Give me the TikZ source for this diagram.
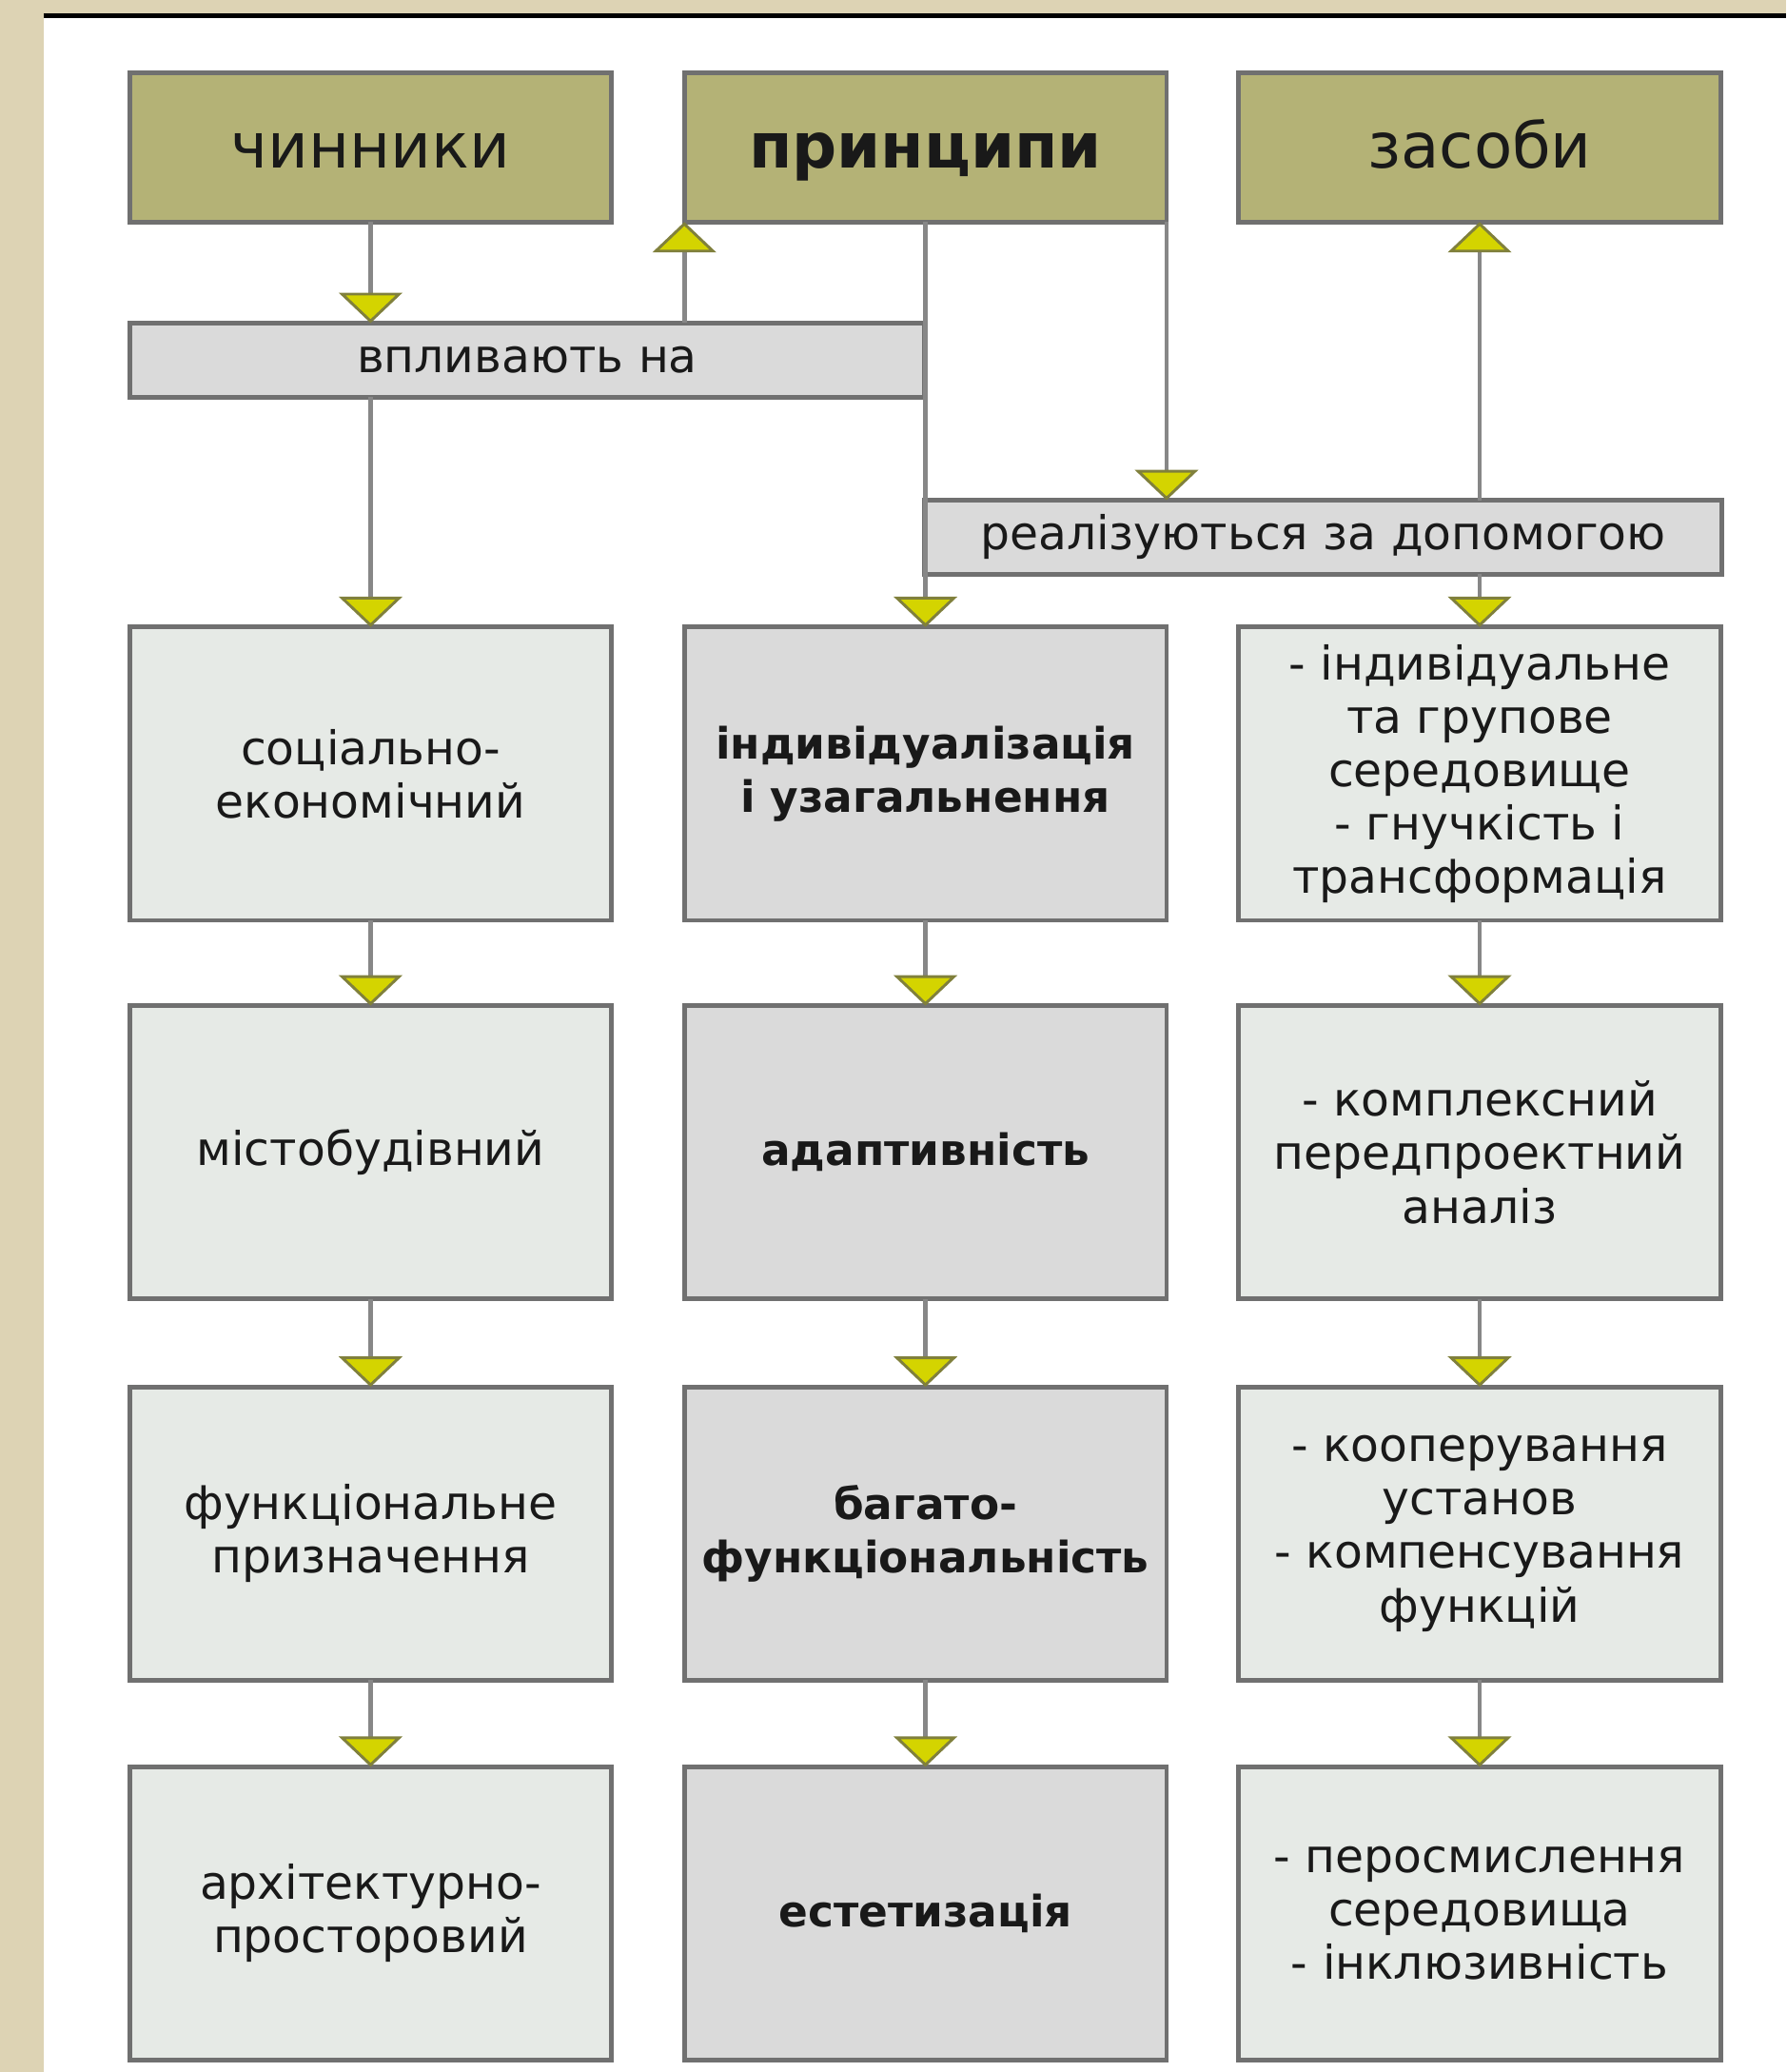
\documentclass[tikz,border=0pt]{standalone}
\usepackage{fontspec}
\setmainfont{DejaVu Sans}
\usepackage{tikz}
\usetikzlibrary{positioning, arrows.meta}

\definecolor{paper}{RGB}{221,211,180}
\definecolor{olivebox}{RGB}{180,178,118}
\definecolor{greybox}{RGB}{218,218,218}
\definecolor{palebox}{RGB}{230,234,230}
\definecolor{edgegrey}{RGB}{112,112,112}
\definecolor{wiregrey}{RGB}{135,135,135}
\definecolor{tipyellow}{RGB}{212,212,0}
\definecolor{tipedge}{RGB}{128,128,60}

\tikzset{
  cell/.style={draw=edgegrey, line width=1pt, rectangle, inner sep=0pt, outer sep=0pt,
    align=center, text=black!90, font=\fontsize{10}{11.5}\selectfont},
  head/.style={cell, fill=olivebox, minimum width=3.65cm, minimum height=1.13cm,
    text height=1.8ex, text depth=0.2ex, font=\fontsize{13.5}{16}\selectfont},
  band/.style={cell, fill=greybox, minimum height=0.56cm},
  side/.style={cell, fill=palebox, minimum width=3.65cm, minimum height=2.22cm},
  core/.style={cell, fill=greybox, minimum width=3.65cm, minimum height=2.22cm,
    font=\fontsize{9.3}{11.5}\selectfont\bfseries},
  wire/.style={draw=wiregrey, line width=1pt,
    -{Triangle[width=4.8mm, length=2.3mm, fill=tipyellow, color=tipedge, line width=0.6pt]}}
}

\begin{document}
\begin{tikzpicture}
  \useasboundingbox (0, 0) rectangle (13.52, -15.68);
  \fill[paper] (0, 0) rectangle (13.52, -15.68);
  \fill[white] (0.33, -0.12) rectangle (13.52, -15.68);
  \draw[black, line width=1pt] (0.33, -0.12) -- (13.52, -0.12);

  \node[head] (chyn) at (2.805, -1.115) {чинники};
  \node[head, font=\fontsize{13.5}{16}\selectfont\bfseries] (prin) at (7.005, -1.115) {принципи};
  \node[head] (zas) at (11.2, -1.115) {засоби};

  \node[band, minimum width=6.02cm] (vplyv) at (3.99, -2.725) {впливають на};
  \node[band, minimum width=6.03cm] (real) at (10.015, -4.065) {реалізуються за допомогою};

  \node[side] (r1c1) at (2.805, -5.855) {соціально-\\економічний};
  \node[side] (r2c1) at (2.805, -8.72) {містобудівний};
  \node[side] (r3c1) at (2.805, -11.605) {функціональне\\призначення};
  \node[side] (r4c1) at (2.805, -14.48) {архітектурно-\\просторовий};

  \node[core] (r1c2) at (7.005, -5.855) {індивідуалізація\\і узагальнення};
  \node[core] (r2c2) at (7.005, -8.72) {адаптивність};
  \node[core] (r3c2) at (7.005, -11.605) {багато-\\функціональність};
  \node[core] (r4c2) at (7.005, -14.48) {естетизація};

  \node[side] (r1c3) at (11.2, -5.855) {- індивідуальне\\та групове\\середовище\\- гнучкість і\\трансформація};
  \node[side] (r2c3) at (11.2, -8.72) {- комплексний\\передпроектний\\аналіз};
  \node[side] (r3c3) at (11.2, -11.605) {- кооперування\\установ\\- компенсування\\функцій};
  \node[side] (r4c3) at (11.2, -14.48) {- пеpосмислення\\середовища\\- інклюзивність};

  \draw[wire] (chyn.south) -- (chyn.south |- vplyv.north);
  \draw[wire] (vplyv.north -| prin.south west) -- (prin.south west);
  \draw[wire] (prin.south) -- (r1c2.north);
  \draw[wire] (prin.south east) -- (prin.south east |- real.north);
  \draw[wire] (real.north -| zas.south) -- (zas.south);
  \draw[wire] (vplyv.south -| r1c1.north) -- (r1c1.north);
  \draw[wire] (real.south -| r1c3.north) -- (r1c3.north);

  \foreach \c in {1, 2, 3} {
    \draw[wire] (r1c\c.south) -- (r2c\c.north);
    \draw[wire] (r2c\c.south) -- (r3c\c.north);
    \draw[wire] (r3c\c.south) -- (r4c\c.north);
  }
\end{tikzpicture}
\end{document}
